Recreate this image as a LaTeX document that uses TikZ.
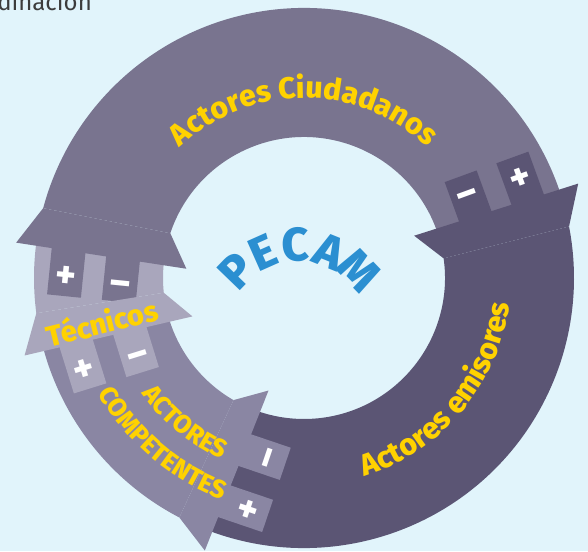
\documentclass[tikz,border=0pt]{standalone}
\usepackage{fontspec}
\setmainfont{Fira Sans}[BoldFont={Fira Sans ExtraBold}]
\usetikzlibrary{decorations.text}

\definecolor{bgblue}{HTML}{E1F4FB}
\definecolor{ciudadano}{HTML}{79748F}
\definecolor{emisor}{HTML}{5B5574}
\definecolor{competente}{HTML}{8A86A3}
\definecolor{tecnico}{HTML}{A9A6BC}
\definecolor{labelyellow}{HTML}{FFD200}
\definecolor{pecamblue}{HTML}{2B8FD1}
\definecolor{headgray}{HTML}{3C3C3C}

\newcommand{\ringfont}{\bfseries\fontsize{30}{30}\selectfont}
\newcommand{\capsfont}{\bfseries\fontsize{25.5}{25.5}\selectfont}

\begin{document}
\begin{tikzpicture}[x=1pt, y=1pt,
  sign/.style={text=white, inner sep=0pt,
    font=\bfseries\fontsize{38}{38}\selectfont},
  pecamletter/.style={text=pecamblue, inner sep=0pt,
    font=\bfseries\fontsize{47}{47}\selectfont}]
  \useasboundingbox (-304,-273) rectangle (284,278);
  \clip (-304,-273) rectangle (284,278);
  \fill[bgblue] (-304,-273) rectangle (284,278);

  % cut heading at the top
  \node[anchor=base east, text=headgray, inner sep=0pt,
    font=\fontsize{24}{24}\selectfont] (heading) at (-212,267) {Coordinación};

  % ring segments
  \foreach \a/\so/\si/\col in {245/371/368/emisor, 15/165/161.5/ciudadano,
      170/187.5/186/tecnico, 192/242.5/240/competente}
    \fill[\col] (\a:270) arc[start angle=\a, end angle=\so, radius=270]
      -- (\si:141) arc[start angle=\si, end angle=\a, radius=141] -- cycle;

  % flared ends with their plugs
  \foreach \so/\si/\co/\ci/\col/\k in {371/368/379/381/emisor/e,
      165/161.5/173/175.5/ciudadano/c, 187.5/186/195.5/199/tecnico/t,
      242.5/240/250/252.5/competente/p}{
    \fill[\col] (\so:270) -- (\co:290) -- (\ci:118) -- (\si:141) -- cycle;
    \pgfmathsetmacro{\tilt}{(\co+\ci)/2}
    \begin{scope}[rotate=\tilt]
      \fill[\col] (165,-12) rectangle (199,42);
      \fill[\col] (220,-12) rectangle (254,42);
      \node[sign, rotate=\tilt] (minus\k) at (182,19) {–};
      \node[sign, rotate=\tilt] (plus\k) at (237,19) {+};
    \end{scope}
  }

  % labels on the ring
  \path[decorate, decoration={text along path, text align=center,
      text={|\ringfont\color{labelyellow}|Actores Ciudadanos}}]
    (150:180) arc[start angle=150, end angle=30, radius=180];
  \path[decorate, decoration={text along path, text align=center,
      text={|\ringfont\color{labelyellow}|Actores emisores}}]
    (260:207) arc[start angle=260, end angle=380, radius=207];
  \path[decorate, decoration={text along path, text align=center,
      text={|\capsfont\color{labelyellow}|ACTORES}}]
    (195:199) arc[start angle=195, end angle=266, radius=199];
  \path[decorate, decoration={text along path, text align=center,
      text={|\capsfont\color{labelyellow}|COMPETENTES}}]
    (194:236) arc[start angle=194, end angle=265, radius=236];

  \node[text=labelyellow, rotate=14, inner sep=0pt,
    font=\bfseries\fontsize{29}{29}\selectfont] (tecnicos) at (-202,-44) {Técnicos};

  % PECAM in the middle
  \coordinate (pc) at (-6,-52);
  \foreach \ch/\ang [count=\i] in {P/136, E/114, C/92, A/68, M/44}
    \node[pecamletter, rotate=\ang-90] (pecam\i) at ([shift={(\ang:85)}]pc) {\ch};
\end{tikzpicture}
\end{document}
